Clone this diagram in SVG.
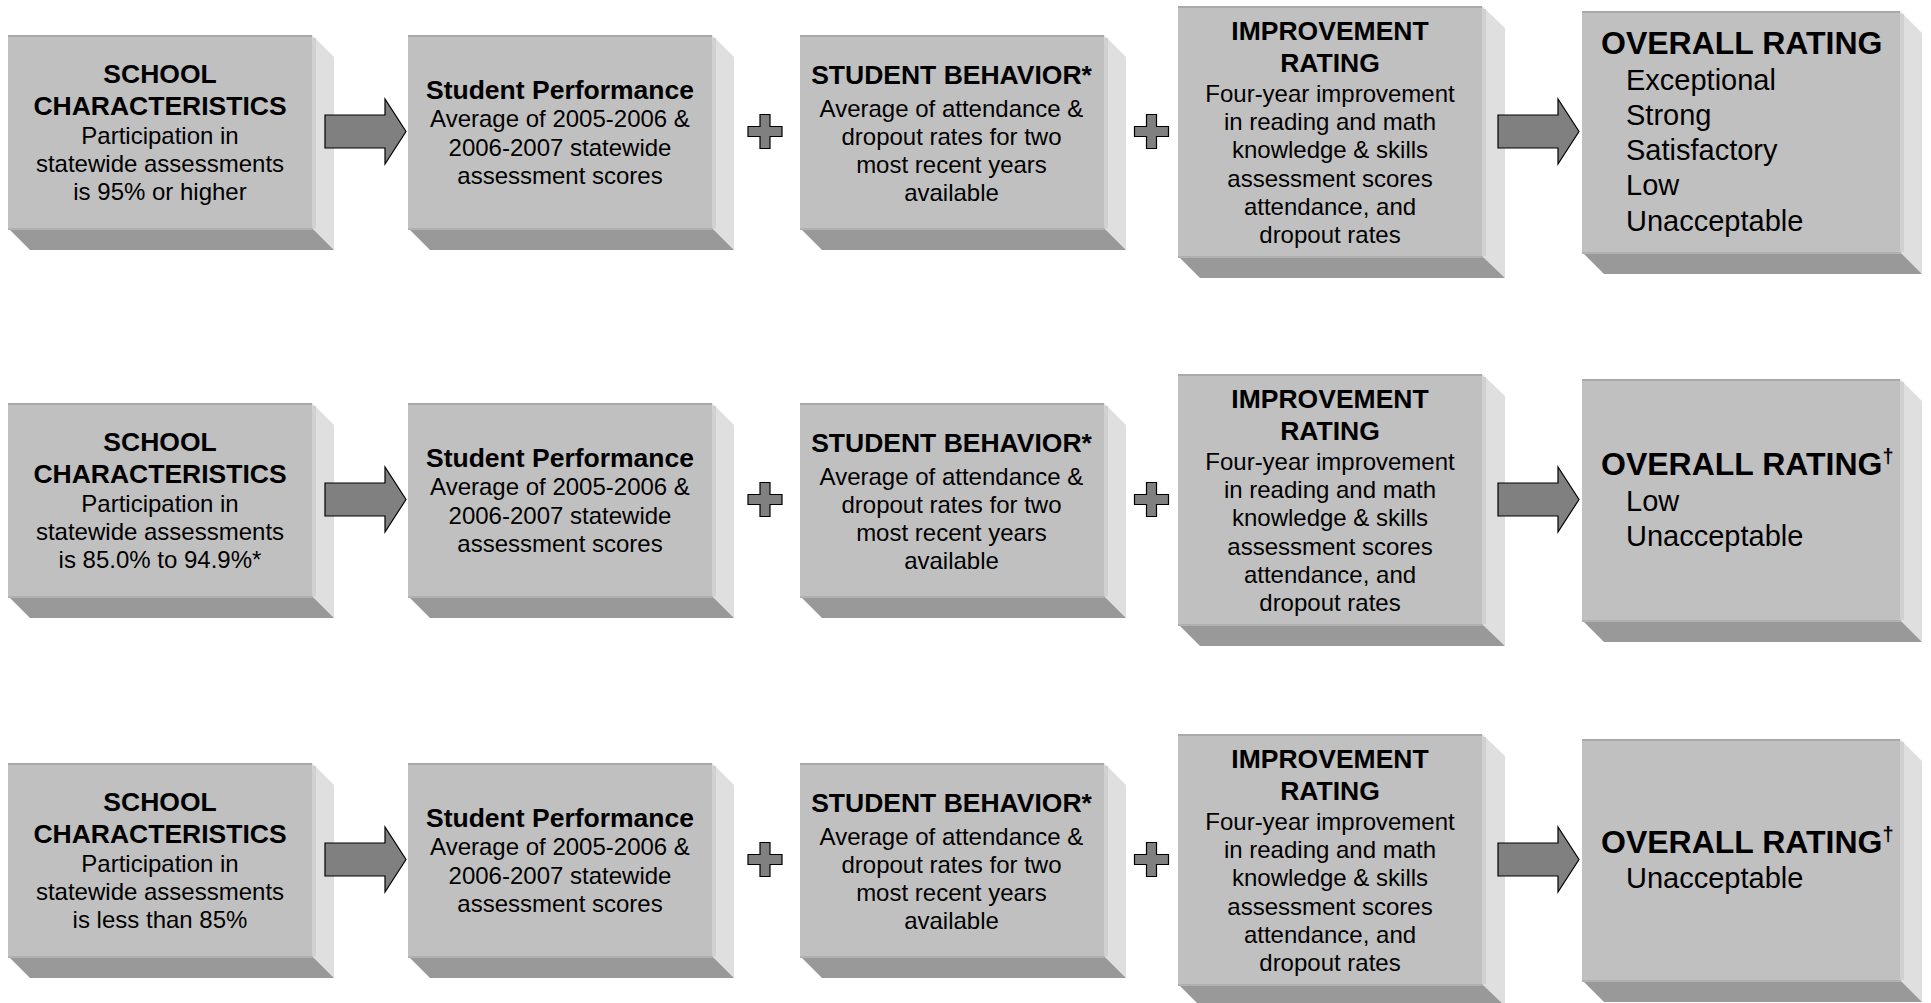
<svg xmlns="http://www.w3.org/2000/svg" xmlns:xlink="http://www.w3.org/1999/xlink" width="1931" height="1003" viewBox="0 0 1931 1003">
<style>
.front{fill:#c0c0c0}
.side{fill:#dfdfdf}
.sidestrip{stroke:#d0d0d0;stroke-width:4}
.bottom{fill:#999999}
.topedge{stroke:#a9a9a9;stroke-width:2}
.botedge{stroke:#b0b0b0;stroke-width:2}
.t{font-family:"Liberation Sans",Arial,Helvetica,sans-serif;fill:#000}
.h{font-size:26.5px;font-weight:bold;text-anchor:middle}
.b{font-size:24px;text-anchor:middle}
.oh{font-size:32px;font-weight:bold}
.ol{font-size:29px}
.conn{fill:#808080;stroke:#000;stroke-width:1.2;stroke-linejoin:miter}
</style>
<defs>
<g id="boxA">
<rect class="front" x="0" y="0" width="304" height="193"/>
<polygon class="side" points="304,0 326,22 326,215 304,193"/>
<line class="sidestrip" x1="306" y1="3" x2="306" y2="193"/>
<polygon class="bottom" points="0,193 304,193 326,215 22,215"/>
<line class="topedge" x1="0" y1="1" x2="304" y2="1"/>
<line class="botedge" x1="0" y1="194" x2="305" y2="194"/>
</g>
<g id="boxB">
<rect class="front" x="0" y="0" width="304" height="250"/>
<polygon class="side" points="304,0 327,22 327,272 304,250"/>
<line class="sidestrip" x1="306" y1="3" x2="306" y2="250"/>
<polygon class="bottom" points="0,250 304,250 327,272 22,272"/>
<line class="topedge" x1="0" y1="1" x2="304" y2="1"/>
<line class="botedge" x1="0" y1="251" x2="305" y2="251"/>
</g>
<g id="boxC">
<rect class="front" x="0" y="0" width="318" height="241"/>
<polygon class="side" points="318,0 340,22 340,263 318,241"/>
<line class="sidestrip" x1="320" y1="3" x2="320" y2="241"/>
<polygon class="bottom" points="0,241 318,241 340,263 22,263"/>
<line class="topedge" x1="0" y1="1" x2="318" y2="1"/>
<line class="botedge" x1="0" y1="242" x2="319" y2="242"/>
</g>
<path id="arrow" class="conn" d="M0,-16.5 H60 V-32.5 L81,0 L60,32.5 V16.5 H0 Z"/>
<path id="plus" class="conn" d="M-5,-17 H5 V-5 H17 V5 H5 V17 H-5 V5 H-17 V-5 H-5 Z"/>
</defs>

<!-- Row 1 -->
<g id="r1-school">
<use xlink:href="#boxA" x="8" y="35"/>
<text class="t h" x="160" y="83">SCHOOL</text>
<text class="t h" x="160" y="115">CHARACTERISTICS</text>
<text class="t b" x="160" y="144">Participation in</text>
<text class="t b" x="160" y="172">statewide assessments</text>
<text class="t b" x="160" y="200">is 95% or higher</text>
</g>
<g id="r1-performance">
<use xlink:href="#boxA" x="408" y="35"/>
<text class="t h" x="560" y="99">Student Performance</text>
<text class="t b" x="560" y="127">Average of 2005-2006 &amp;</text>
<text class="t b" x="560" y="155.5">2006-2007 statewide</text>
<text class="t b" x="560" y="184">assessment scores</text>
</g>
<g id="r1-behavior">
<use xlink:href="#boxA" x="800" y="35"/>
<text class="t h" x="951.5" y="84">STUDENT BEHAVIOR*</text>
<text class="t b" x="951.5" y="117">Average of attendance &amp;</text>
<text class="t b" x="951.5" y="145">dropout rates for two</text>
<text class="t b" x="951.5" y="173">most recent years</text>
<text class="t b" x="951.5" y="201">available</text>
</g>
<g id="r1-improvement">
<use xlink:href="#boxB" x="1178" y="6"/>
<text class="t h" x="1330" y="40">IMPROVEMENT</text>
<text class="t h" x="1330" y="72">RATING</text>
<text class="t b" x="1330" y="102">Four-year improvement</text>
<text class="t b" x="1330" y="130">in reading and math</text>
<text class="t b" x="1330" y="158">knowledge &amp; skills</text>
<text class="t b" x="1330" y="186.5">assessment scores</text>
<text class="t b" x="1330" y="215">attendance, and</text>
<text class="t b" x="1330" y="243">dropout rates</text>
</g>
<g id="r1-overall">
<use xlink:href="#boxC" x="1582" y="11"/>
<text class="t oh" x="1601" y="54">OVERALL RATING</text>
<text class="t ol" x="1626" y="89.5">Exceptional</text>
<text class="t ol" x="1626" y="124.8">Strong</text>
<text class="t ol" x="1626" y="160.1">Satisfactory</text>
<text class="t ol" x="1626" y="195.4">Low</text>
<text class="t ol" x="1626" y="230.7">Unacceptable</text>
</g>

<!-- Row 2 -->
<g id="r2-school" transform="translate(0,368)">
<use xlink:href="#boxA" x="8" y="35"/>
<text class="t h" x="160" y="83">SCHOOL</text>
<text class="t h" x="160" y="115">CHARACTERISTICS</text>
<text class="t b" x="160" y="144">Participation in</text>
<text class="t b" x="160" y="172">statewide assessments</text>
<text class="t b" x="160" y="200">is 85.0% to 94.9%*</text>
</g>
<g id="r2-performance" transform="translate(0,368)">
<use xlink:href="#boxA" x="408" y="35"/>
<text class="t h" x="560" y="99">Student Performance</text>
<text class="t b" x="560" y="127">Average of 2005-2006 &amp;</text>
<text class="t b" x="560" y="155.5">2006-2007 statewide</text>
<text class="t b" x="560" y="184">assessment scores</text>
</g>
<g id="r2-behavior" transform="translate(0,368)">
<use xlink:href="#boxA" x="800" y="35"/>
<text class="t h" x="951.5" y="84">STUDENT BEHAVIOR*</text>
<text class="t b" x="951.5" y="117">Average of attendance &amp;</text>
<text class="t b" x="951.5" y="145">dropout rates for two</text>
<text class="t b" x="951.5" y="173">most recent years</text>
<text class="t b" x="951.5" y="201">available</text>
</g>
<g id="r2-improvement" transform="translate(0,368)">
<use xlink:href="#boxB" x="1178" y="6"/>
<text class="t h" x="1330" y="40">IMPROVEMENT</text>
<text class="t h" x="1330" y="72">RATING</text>
<text class="t b" x="1330" y="102">Four-year improvement</text>
<text class="t b" x="1330" y="130">in reading and math</text>
<text class="t b" x="1330" y="158">knowledge &amp; skills</text>
<text class="t b" x="1330" y="186.5">assessment scores</text>
<text class="t b" x="1330" y="215">attendance, and</text>
<text class="t b" x="1330" y="243">dropout rates</text>
</g>
<g id="r2-overall" transform="translate(0,368)">
<use xlink:href="#boxC" x="1582" y="11"/>
<text class="t oh" x="1601" y="107">OVERALL RATING<tspan font-size="20" dy="-12">†</tspan></text>
<text class="t ol" x="1626" y="142.5">Low</text>
<text class="t ol" x="1626" y="178">Unacceptable</text>
</g>

<!-- Row 3 -->
<g id="r3-school" transform="translate(0,728)">
<use xlink:href="#boxA" x="8" y="35"/>
<text class="t h" x="160" y="83">SCHOOL</text>
<text class="t h" x="160" y="115">CHARACTERISTICS</text>
<text class="t b" x="160" y="144">Participation in</text>
<text class="t b" x="160" y="172">statewide assessments</text>
<text class="t b" x="160" y="200">is less than 85%</text>
</g>
<g id="r3-performance" transform="translate(0,728)">
<use xlink:href="#boxA" x="408" y="35"/>
<text class="t h" x="560" y="99">Student Performance</text>
<text class="t b" x="560" y="127">Average of 2005-2006 &amp;</text>
<text class="t b" x="560" y="155.5">2006-2007 statewide</text>
<text class="t b" x="560" y="184">assessment scores</text>
</g>
<g id="r3-behavior" transform="translate(0,728)">
<use xlink:href="#boxA" x="800" y="35"/>
<text class="t h" x="951.5" y="84">STUDENT BEHAVIOR*</text>
<text class="t b" x="951.5" y="117">Average of attendance &amp;</text>
<text class="t b" x="951.5" y="145">dropout rates for two</text>
<text class="t b" x="951.5" y="173">most recent years</text>
<text class="t b" x="951.5" y="201">available</text>
</g>
<g id="r3-improvement" transform="translate(0,728)">
<use xlink:href="#boxB" x="1178" y="6"/>
<text class="t h" x="1330" y="40">IMPROVEMENT</text>
<text class="t h" x="1330" y="72">RATING</text>
<text class="t b" x="1330" y="102">Four-year improvement</text>
<text class="t b" x="1330" y="130">in reading and math</text>
<text class="t b" x="1330" y="158">knowledge &amp; skills</text>
<text class="t b" x="1330" y="186.5">assessment scores</text>
<text class="t b" x="1330" y="215">attendance, and</text>
<text class="t b" x="1330" y="243">dropout rates</text>
</g>
<g id="r3-overall" transform="translate(0,728)">
<use xlink:href="#boxC" x="1582" y="11"/>
<text class="t oh" x="1601" y="125">OVERALL RATING<tspan font-size="20" dy="-12">†</tspan></text>
<text class="t ol" x="1626" y="160">Unacceptable</text>
</g>

<!-- Connectors -->
<g id="connectors">
<use xlink:href="#arrow" x="325" y="131.5"/>
<use xlink:href="#plus" x="765" y="131.5"/>
<use xlink:href="#plus" x="1151.5" y="131.5"/>
<use xlink:href="#arrow" x="1498" y="131.5"/>
<use xlink:href="#arrow" x="325" y="499.5"/>
<use xlink:href="#plus" x="765" y="499.5"/>
<use xlink:href="#plus" x="1151.5" y="499.5"/>
<use xlink:href="#arrow" x="1498" y="499.5"/>
<use xlink:href="#arrow" x="325" y="859.5"/>
<use xlink:href="#plus" x="765" y="859.5"/>
<use xlink:href="#plus" x="1151.5" y="859.5"/>
<use xlink:href="#arrow" x="1498" y="859.5"/>
</g>
</svg>
